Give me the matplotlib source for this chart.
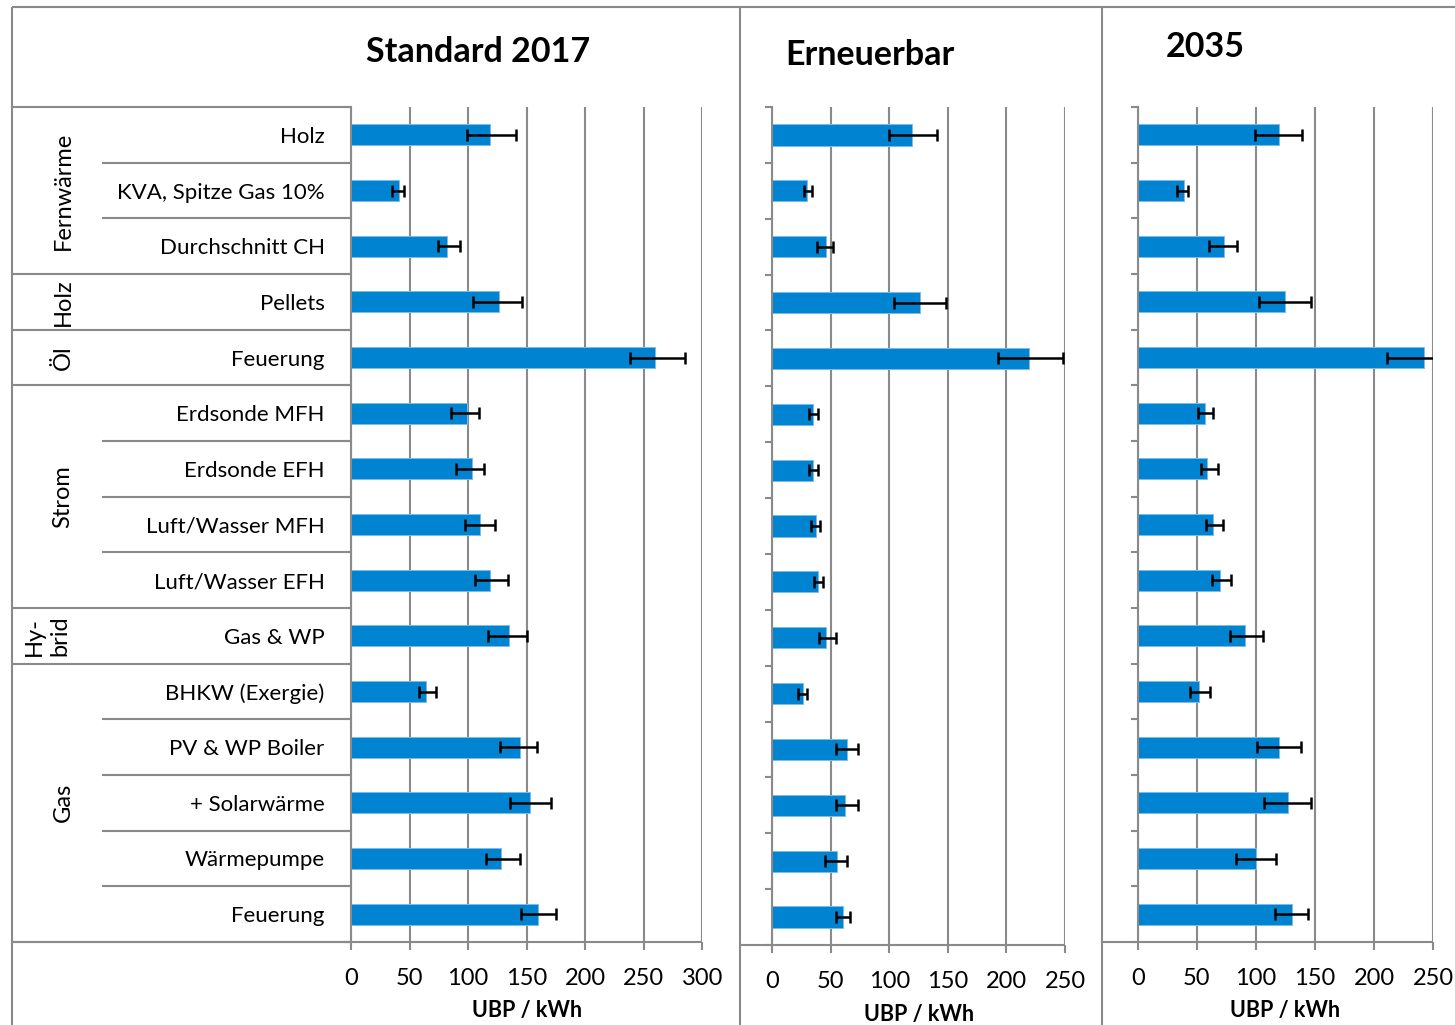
import matplotlib
matplotlib.use("Agg")
import matplotlib.pyplot as plt
from matplotlib.lines import Line2D
import matplotlib.transforms as mtransforms
import numpy as np

plt.rcParams['font.family'] = ['Lato', 'DejaVu Sans']

# ---------------- data ----------------
items = ["Holz", "KVA, Spitze Gas 10%", "Durchschnitt CH", "Pellets", "Feuerung",
         "Erdsonde MFH", "Erdsonde EFH", "Luft/Wasser MFH", "Luft/Wasser EFH",
         "Gas & WP", "BHKW (Exergie)", "PV & WP Boiler", "+ Solarwärme",
         "Wärmepumpe", "Feuerung"]
groups = ["Fernwärme", "Holz", "Öl", "Strom", "Hy-\nbrid", "Gas"]
group_sizes = [3, 1, 1, 4, 1, 5]

titles = ["Standard 2017", "Erneuerbar", "2035"]

std_val = [119, 41, 82, 126, 260, 99, 103, 110, 119, 135, 64, 144, 153, 128, 160]
std_low = [99, 35, 74, 104, 238, 85, 90, 97, 106, 117, 58, 127, 136, 115, 145]
std_high = [141, 45, 93, 146, 285, 109, 114, 123, 134, 150, 73, 159, 171, 144, 175]

ern_val = [119, 30, 46, 126, 219, 35, 35, 37, 39, 46, 26, 64, 62, 55, 60]
ern_low = [100, 27, 38, 104, 193, 31, 31, 33, 36, 40, 22, 54, 54, 45, 54]
ern_high = [141, 34, 52, 148, 248, 39, 39, 41, 43, 54, 30, 73, 73, 64, 66]

y35_val = [120, 39, 73, 125, 242, 57, 59, 64, 70, 91, 52, 120, 127, 100, 131]
y35_low = [99, 33, 60, 103, 211, 51, 54, 58, 63, 78, 44, 101, 107, 83, 116]
y35_high = [139, 43, 84, 147, 273, 64, 68, 72, 79, 106, 61, 138, 147, 117, 144]

x_max = [300, 250, 250]
x_ticks = [[0, 50, 100, 150, 200, 250, 300], [0, 50, 100, 150, 200, 250],
           [0, 50, 100, 150, 200, 250]]
xlabel = "UBP / kWh"

# ---------------- layout ----------------
W, H = 1455, 1025
fig = plt.figure(figsize=(W / 100, H / 100), dpi=100)

GRAY = "#8A8A8A"
BLUE = "#0084D1"
LW = 1.5

def rect(x0, x1, ytop, ybot):
    return [x0 / W, 1 - ybot / H, (x1 - x0) / W, (ybot - ytop) / H]

panel_px = [(351, 702.3, 107, 942), (772.3, 1065, 107, 945), (1137.7, 1433, 107, 942)]
sep_left = [12, 740, 1102]
title_pos = [(478, 52), (870, 55), (1205, 47)]

data = [(std_val, std_low, std_high), (ern_val, ern_low, ern_high),
        (y35_val, y35_low, y35_high)]

n = len(items)
ypos = np.arange(n)
axes = []
for i in range(3):
    x0, x1, yt, yb = panel_px[i]
    ax = fig.add_axes(rect(x0, x1, yt, yb))
    axes.append(ax)
    vals, lows, highs = data[i]
    vals = np.array(vals, float)
    xerr = np.vstack([vals - np.array(lows), np.array(highs) - vals])
    ax.set_axisbelow(True)
    ax.barh(ypos, vals, height=0.38, color=BLUE, edgecolor="#7DBCE8", linewidth=0.7,
            zorder=2)
    ax.errorbar(vals, ypos, xerr=xerr, fmt='none', ecolor='black', elinewidth=1.8,
                capsize=4.4, capthick=1.8, zorder=3)
    ax.set_xlim(0, x_max[i])
    ax.set_ylim(n - 0.5, -0.5)
    ax.set_xticks(x_ticks[i])
    ax.set_xticklabels([str(t) for t in x_ticks[i]], fontsize=17)
    ax.tick_params(axis='x', direction='out', length=6, width=LW, color=GRAY,
                   pad=13)
    ax.xaxis.grid(True, color=GRAY, linewidth=LW)
    ax.set_xlabel(xlabel, fontsize=15.5, fontweight='bold', labelpad=8)
    # y axis: boundary ticks
    ax.set_yticks(np.arange(-0.5, n, 1.0), minor=True)
    ax.tick_params(axis='y', which='minor', direction='out', length=5, width=LW,
                   color=GRAY)
    if i == 0:
        ax.set_yticks(ypos)
        ax.set_yticklabels(items, fontsize=16)
        ax.tick_params(axis='y', which='major', length=0, pad=19)
    else:
        ax.set_yticks([])
    for s in ['top', 'right', 'bottom']:
        ax.spines[s].set_visible(False)
    ax.spines['left'].set_color(GRAY)
    ax.spines['left'].set_linewidth(LW)
    # bottom line extending to the panel separator
    xl = (sep_left[i] - x0) / (x1 - x0)
    ax.plot([xl, 1], [0, 0], transform=ax.transAxes, color=GRAY, lw=LW,
            clip_on=False, solid_capstyle='butt')
    fig.text(title_pos[i][0] / W, 1 - title_pos[i][1] / H, titles[i], fontsize=24.5,
             fontweight='bold', ha='center', va='center')

# ---------------- label table on the left ----------------
ax1 = axes[0]
x0, x1 = panel_px[0][0], panel_px[0][1]
def axfrac(px):
    return (px - x0) / (x1 - x0)

bounds = np.cumsum([0] + group_sizes) - 0.5
group_bounds = set(np.round(bounds, 1))
for b in np.arange(-0.5, n, 1.0):
    if round(b, 1) in group_bounds:
        xa = axfrac(12)
    else:
        xa = axfrac(102)
    ax1.plot([xa, 0], [b, b], transform=ax1.get_yaxis_transform(), color=GRAY,
             lw=LW, clip_on=False, solid_capstyle='butt')

trans = mtransforms.blended_transform_factory(fig.transFigure, ax1.transData)
for gi, g in enumerate(groups):
    yc = (bounds[gi] + bounds[gi + 1]) / 2
    xc = 63 if "\n" not in g else 47
    fig.text(xc / W, yc, g, transform=trans, rotation=90, fontsize=17,
             ha='center', va='center', multialignment='left', linespacing=1.3)

# ---------------- outer frame lines ----------------
def fline(xs, ys):
    fig.add_artist(Line2D([x / W for x in xs], [1 - y / H for y in ys],
                          transform=fig.transFigure, color=GRAY, lw=LW,
                          solid_capstyle='butt'))

fline([12, W], [7, 7])
fline([12, 12], [7, H])
fline([740, 740], [7, H])
fline([1102, 1102], [7, H])

fig.savefig("out.png", dpi=100, facecolor='white')
